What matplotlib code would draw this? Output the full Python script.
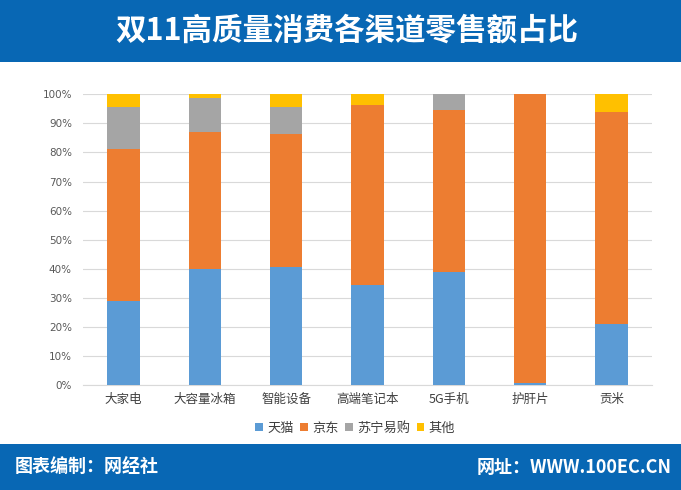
import matplotlib
matplotlib.use("Agg")
import matplotlib.pyplot as plt
from matplotlib.patches import Rectangle
import numpy as np

plt.rcParams['font.family'] = ['Noto Sans CJK SC', 'DejaVu Sans']

title = "双11高质量消费各渠道零售额占比"
categories = ["大家电", "大容量冰箱", "智能设备", "高端笔记本", "5G手机", "护肝片", "贡米"]
series_names = ["天猫", "京东", "苏宁易购", "其他"]
tmall = [28.8, 39.8, 40.7, 34.4, 38.9, 0.8, 21.1]
jd = [52.3, 47.1, 45.6, 61.8, 55.7, 99.2, 72.7]
suning = [14.4, 11.7, 9.4, 0.0, 5.4, 0.0, 0.0]
other = [4.5, 1.4, 4.3, 3.8, 0.0, 0.0, 6.2]
yticks = [0, 10, 20, 30, 40, 50, 60, 70, 80, 90, 100]
footer_left = "图表编制：网经社"
footer_right = "网址：WWW.100EC.CN"

colors = ["#5B9BD5", "#ED7D31", "#A5A5A5", "#FFC000"]
band_color = "#0867B4"

W, H = 681, 490
fig = plt.figure(figsize=(W / 100, H / 100), dpi=100)
fig.patch.set_facecolor("white")

# header and footer bands
fig.patches.append(Rectangle((0, 1 - 62 / H), 1, 62 / H, transform=fig.transFigure,
                             facecolor=band_color, edgecolor="none", zorder=0))
fig.patches.append(Rectangle((0, 0), 1, 46.5 / H, transform=fig.transFigure,
                             facecolor=band_color, edgecolor="none", zorder=0))
fig.text(347 / W, 1 - 31 / H, title, color="white", fontsize=22, fontweight="bold",
         ha="center", va="center")
fig.text(15 / W, 23 / H, footer_left, color="white", fontsize=13, fontweight="bold",
         ha="left", va="center")
fig.text(672 / W, 23 / H, footer_right, color="white", fontsize=13, fontweight="bold",
         ha="right", va="center")

left, right, top, bottom = 83, 652, 94.3, 385
ax = fig.add_axes([left / W, 1 - bottom / H, (right - left) / W, (bottom - top) / H])

x = np.arange(len(categories))
data = [tmall, jd, suning, other]
base = np.zeros(len(categories))
handles = []
for name, vals, c in zip(series_names, data, colors):
    vals = np.array(vals)
    b = ax.bar(x, vals, bottom=base, width=0.4, color=c, label=name, zorder=3)
    handles.append(b)
    base += vals

ax.set_xlim(-0.5, len(categories) - 0.5)
ax.set_ylim(0, 100)
ax.set_yticks(yticks)
ax.set_yticklabels([f"{v}%" for v in yticks], fontsize=7.5, color="#595959",
                   family=['DejaVu Sans'])
ax.set_xticks(x)
ax.set_xticklabels(categories, fontsize=9, color="#404040")
ax.tick_params(axis="both", length=0)
ax.tick_params(axis="y", pad=8)
ax.tick_params(axis="x", pad=6)
ax.yaxis.grid(True, color="#D9D9D9", linewidth=0.8, zorder=0)
for s in ["top", "right", "left"]:
    ax.spines[s].set_visible(False)
ax.spines["bottom"].set_color("#D9D9D9")
ax.spines["bottom"].set_linewidth(0.8)

fig.legend(handles=handles, labels=series_names, loc="center", ncol=4,
           bbox_to_anchor=(355 / W, 1 - 428 / H), frameon=False, fontsize=9.5,
           handlelength=0.6, handleheight=0.6, handletextpad=0.3, columnspacing=0.5,
           labelcolor="#404040")

fig.savefig("out.png", dpi=100, facecolor="white")
